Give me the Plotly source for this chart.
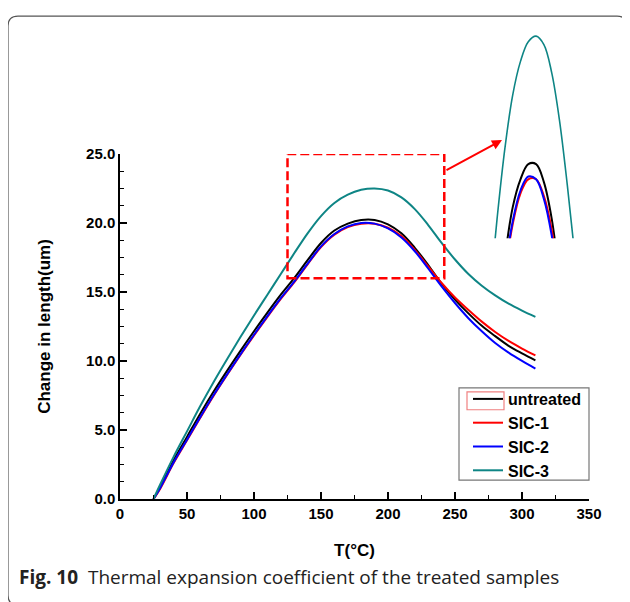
import plotly.graph_objects as go

# ---- data ----
temp = [25, 30, 40, 50, 60, 70, 80, 90, 100, 110, 120, 130, 140, 150, 160, 170, 180,
        190, 200, 210, 220, 230, 240, 250, 260, 270, 280, 290, 300, 310]
untreated = [0.0, 0.85, 2.8, 4.5, 6.2, 7.8, 9.3, 10.75, 12.15, 13.5, 14.8, 16.0, 17.3, 18.55,
             19.45, 19.95, 20.22, 20.22, 19.9, 19.25, 18.2, 16.95, 15.6, 14.45, 13.45, 12.55,
             11.8, 11.1, 10.55, 10.05]
sic1 = [0.0, 0.75, 2.6, 4.25, 5.9, 7.5, 9.0, 10.45, 11.85, 13.2, 14.5, 15.7, 17.0, 18.25,
        19.15, 19.7, 19.95, 19.95, 19.65, 19.05, 18.05, 16.85, 15.65, 14.6, 13.7, 12.85,
        12.1, 11.45, 10.9, 10.4]
sic2 = [0.0, 0.8, 2.65, 4.3, 5.95, 7.55, 9.05, 10.5, 11.9, 13.25, 14.55, 15.75, 17.05, 18.3,
        19.2, 19.75, 20.0, 19.95, 19.6, 18.95, 17.95, 16.7, 15.4, 14.2, 13.1, 12.15,
        11.3, 10.6, 10.0, 9.45]
sic3 = [0.0, 1.05, 3.05, 4.9, 6.75, 8.5, 10.15, 11.75, 13.3, 14.8, 16.3, 17.8, 19.25, 20.5,
        21.45, 22.05, 22.4, 22.5, 22.35, 21.85, 21.0, 19.85, 18.55, 17.35, 16.3, 15.45,
        14.75, 14.15, 13.65, 13.2]

names = ["untreated", "SIC-1", "SIC-2", "SIC-3"]
series = [untreated, sic1, sic2, sic3]
colors = ["#000000", "#ff0000", "#0000ff", "#0e8585"]

x_ticks = [0, 50, 100, 150, 200, 250, 300, 350]
y_ticks = [0, 5, 10, 15, 20, 25]

# ---- layout geometry (screen pixels; page body has an 8px offset) ----
OFF = 8
L, R, T, B = 120 - OFF, 41 + OFF, 25 - OFF, 103 + OFF
W = 630 - L - R
H = 602 - T - B


def px(xp):
    return (xp - 120) / W


def py(yp):
    return (499 - yp) / H


FONT = "Liberation Sans, Arial, sans-serif"

fig = go.Figure()

# main traces
for name, ys, c in zip(names, series, colors):
    fig.add_trace(go.Scatter(x=temp, y=ys, name=name, mode="lines",
                             line=dict(color=c, width=2, shape="spline", smoothing=1.0),
                             xaxis="x", yaxis="y"))

# inset (magnified peak) traces
for name, ys, c in zip(names, series, colors):
    fig.add_trace(go.Scatter(x=temp, y=ys, name=name, mode="lines", showlegend=False,
                             line=dict(color=c, width=2 if c != "#0e8585" else 1.6,
                                       shape="spline", smoothing=1.0),
                             xaxis="x2", yaxis="y2"))

fig.update_layout(
    width=630, height=602,
    margin=dict(l=L, r=R, t=T, b=B),
    paper_bgcolor="white", plot_bgcolor="white",
    font=dict(family=FONT, color="black"),
    xaxis=dict(range=[0, 350], tickvals=x_ticks, domain=[0, 1],
               showline=True, linecolor="black", linewidth=1.5,
               ticks="inside", ticklen=7, tickwidth=1.5, tickcolor="black",
               minor=dict(dtick=25, tick0=0, ticks="inside", ticklen=4, tickwidth=1.2,
                          tickcolor="black"),
               showgrid=False, zeroline=False,
               tickfont=dict(size=15, family=FONT, weight="bold"),
               title=dict(text="<b>T(°C)</b>", font=dict(size=17, family=FONT), standoff=23)),
    yaxis=dict(range=[0, 25], tickvals=y_ticks, tickformat=".1f", domain=[0, py(151)],
               showline=True, linecolor="black", linewidth=1.5,
               ticks="inside", ticklen=7, tickwidth=1.5, tickcolor="black",
               minor=dict(dtick=1.25, tick0=0, ticks="inside", ticklen=4, tickwidth=1.2,
                          tickcolor="black"),
               showgrid=False, zeroline=False,
               tickfont=dict(size=15, family=FONT, weight="bold"),
               title=dict(text="<b>Change in length(um)</b>", font=dict(size=17, family=FONT),
                          standoff=31)),
    xaxis2=dict(range=[124.5, 252.7], domain=[px(485), px(585)], visible=False,
                anchor="y2"),
    yaxis2=dict(range=[18.9, 22.6], domain=[py(236), py(26.5)], visible=False,
                anchor="x2"),
    legend=dict(x=px(468), y=py(381), xanchor="left", yanchor="top",
                bgcolor="rgba(0,0,0,0)", borderwidth=0,
                font=dict(size=16, family=FONT, weight="bold"),
                tracegroupgap=0, itemwidth=30),
    showlegend=True,
)

# legend frame
fig.add_shape(type="rect", xref="paper", yref="paper",
              x0=px(459), x1=px(589), y0=py(480), y1=py(387),
              line=dict(color="#777777", width=1.2), fillcolor="white", layer="above")

# faint red box around the first legend sample (as in the reference)
fig.add_shape(type="rect", xref="paper", yref="paper",
              x0=px(467), x1=px(504), y0=py(409), y1=py(391),
              line=dict(color="#f08080", width=1.2), layer="above")

# red dashed zoom rectangle
fig.add_shape(type="rect", xref="x", yref="y", x0=125, x1=242, y0=16, y1=25,
              line=dict(color="#ff0000", width=2.5, dash="9px,4px"))

# arrow to inset
fig.add_annotation(xref="paper", yref="paper", x=px(502), y=py(137), ax=-57, ay=31,
                   showarrow=True, arrowhead=2, arrowsize=1, arrowwidth=2,
                   arrowcolor="#ff0000", text="")

# caption
fig.add_annotation(xref="paper", yref="paper", x=px(17), y=py(578), xanchor="left",
                   yanchor="middle", showarrow=False,
                   text="<b>Fig. 10</b>  Thermal expansion coefficient of the treated samples",
                   font=dict(family="Open Sans, Noto Sans, sans-serif", size=19, color="#222"))

# rounded outer frame
x0, x1 = px(8), px(627)
yt, yb = py(12), py(606)
rx, ry = 10 / W, 10 / H
path = (f"M {x0+rx},{yt} L {x1-rx},{yt} Q {x1},{yt} {x1},{yt-ry} L {x1},{yb+ry} "
        f"Q {x1},{yb} {x1-rx},{yb} L {x0+rx},{yb} Q {x0},{yb} {x0},{yb+ry} "
        f"L {x0},{yt-ry} Q {x0},{yt} {x0+rx},{yt} Z")
fig.add_shape(type="path", xref="paper", yref="paper", path=path,
              line=dict(color="#555555", width=1.2))

fig.write_html("out.html")
